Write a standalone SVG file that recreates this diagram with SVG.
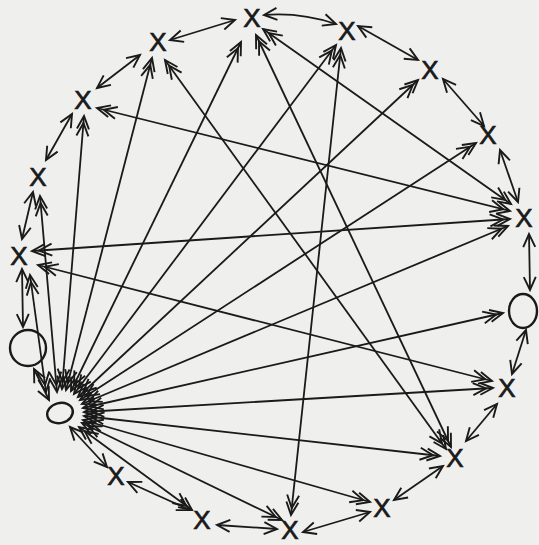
<svg xmlns="http://www.w3.org/2000/svg" width="539" height="545" viewBox="0 0 539 545">
<style>
.c line,.c path{stroke:#1a1a1a;stroke-width:1.8;fill:none}
.r{marker-start:url(#s);marker-end:url(#s)}
.l{marker-start:url(#d);marker-end:url(#d)}
.ah{stroke:#1a1a1a;stroke-width:1.9;fill:none;stroke-linejoin:miter}
.x{font-family:"Liberation Sans",Arial,sans-serif;font-size:26px;fill:#1a1a1a;stroke:#1a1a1a;stroke-width:0.7;text-anchor:middle}
.o{fill:none;stroke:#1a1a1a;stroke-width:2.4}
</style>
<defs>
<marker id="s" viewBox="-16 -8 18 16" refX="0" refY="0" markerWidth="18" markerHeight="16" markerUnits="userSpaceOnUse" orient="auto-start-reverse" overflow="visible">
<path class="ah" d="M-13,-6 L0,0 L-13,6"/>
</marker>
<marker id="d" viewBox="-22 -8 24 16" refX="0" refY="0" markerWidth="24" markerHeight="16" markerUnits="userSpaceOnUse" orient="auto-start-reverse" overflow="visible">
<path class="ah" d="M-13,-6 L0,0 L-13,6 M-20,-6 L-7,0 L-20,6"/>
</marker>
</defs>
<rect width="539" height="545" fill="#efefed"/>
<g id="connectors" class="c">
<line class="r" x1="97" y1="88" x2="140" y2="55"/>
<line class="r" x1="170" y1="40" x2="235" y2="20"/>
<path class="r" d="M264,15 Q300,12 336,24"/>
<line class="r" x1="358" y1="26" x2="418" y2="60"/>
<line class="r" x1="443" y1="79" x2="484" y2="126"/>
<line class="r" x1="500" y1="150" x2="518" y2="202"/>
<line class="r" x1="529" y1="234" x2="530" y2="290"/>
<line class="r" x1="526" y1="330" x2="512" y2="374"/>
<line class="r" x1="497" y1="404" x2="466" y2="441"/>
<line class="r" x1="443" y1="466" x2="394" y2="500"/>
<line class="r" x1="370" y1="512" x2="303" y2="532"/>
<line class="r" x1="277" y1="529" x2="217" y2="525"/>
<line class="r" x1="190" y1="510" x2="128" y2="482"/>
<line class="r" x1="107" y1="467" x2="70" y2="427"/>
<line class="r" x1="49" y1="400" x2="34" y2="369"/>
<line class="r" x1="23" y1="327" x2="22" y2="269"/>
<line class="r" x1="22" y1="239" x2="33" y2="192"/>
<line class="r" x1="46" y1="160" x2="72" y2="114"/>
<line class="l" x1="62" y1="389" x2="84" y2="116"/>
<line class="l" x1="66" y1="390" x2="152" y2="58"/>
<line class="l" x1="71" y1="391" x2="241" y2="42"/>
<line class="l" x1="74" y1="394" x2="336" y2="45"/>
<line class="l" x1="78" y1="397" x2="418" y2="80"/>
<line class="l" x1="80" y1="400" x2="476" y2="143"/>
<line class="l" x1="82" y1="404" x2="508" y2="226"/>
<line class="l" x1="83" y1="408" x2="503" y2="313"/>
<line class="l" x1="84" y1="412" x2="493" y2="388"/>
<line class="l" x1="84" y1="416" x2="440" y2="456"/>
<line class="l" x1="83" y1="420" x2="370" y2="502"/>
<line class="l" x1="82" y1="423" x2="282" y2="520"/>
<line class="l" x1="79" y1="427" x2="192" y2="510"/>
<line class="l" x1="57" y1="392" x2="40" y2="196"/>
<line class="l" x1="46" y1="392" x2="30" y2="275"/>
<line class="l" x1="97" y1="108" x2="510" y2="211"/>
<line class="l" x1="32" y1="251" x2="510" y2="219"/>
<line class="l" x1="38" y1="265" x2="492" y2="381"/>
<line class="l" x1="165" y1="60" x2="446" y2="449"/>
<line class="l" x1="256" y1="35" x2="451" y2="447"/>
<line class="l" x1="263" y1="29" x2="511" y2="204"/>
<line class="l" x1="341" y1="48" x2="291" y2="515"/>
</g>
<g id="n1"><text class="x" x="252" y="27">X</text></g>
<g id="n2"><text class="x" x="347" y="40">X</text></g>
<g id="n3"><text class="x" x="430" y="79">X</text></g>
<g id="n4"><text class="x" x="488" y="144">X</text></g>
<g id="n5"><text class="x" x="524" y="227">X</text></g>
<g id="n6"><ellipse class="o" cx="523" cy="311" rx="14" ry="17"/></g>
<g id="n7"><text class="x" x="507" y="397">X</text></g>
<g id="n8"><text class="x" x="455" y="467">X</text></g>
<g id="n9"><text class="x" x="382" y="517">X</text></g>
<g id="n10"><text class="x" x="290" y="539">X</text></g>
<g id="n11"><text class="x" x="202" y="529">X</text></g>
<g id="n12"><text class="x" x="116" y="485">X</text></g>
<g id="n13"><ellipse class="o" cx="60" cy="413" rx="13" ry="10" transform="rotate(-15 60 413)"/></g>
<g id="n14"><circle class="o" cx="28" cy="348" r="18"/></g>
<g id="n15"><text class="x" x="19" y="265">X</text></g>
<g id="n16"><text class="x" x="38" y="186">X</text></g>
<g id="n17"><text class="x" x="83" y="109">X</text></g>
<g id="n18"><text class="x" x="158" y="51">X</text></g>
</svg>
